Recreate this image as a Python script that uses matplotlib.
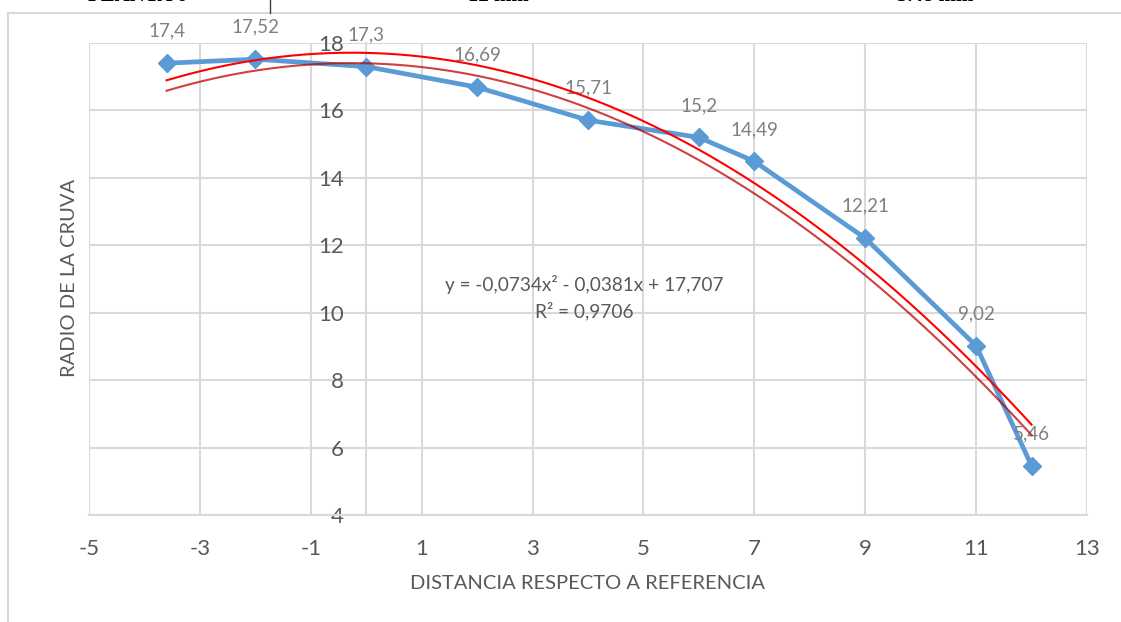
import matplotlib
matplotlib.use("Agg")
import matplotlib.pyplot as plt
import matplotlib.patheffects as pe
from matplotlib.lines import Line2D
import numpy as np

# distancia respecto a la referencia y radio medido
distancia = [-3.6, -2, 0, 2, 4, 6, 7, 9, 11, 12]
radio = [17.4, 17.52, 17.3, 16.69, 15.71, 15.2, 14.49, 12.21, 9.02, 5.46]
etiquetas = ["17,4", "17,52", "17,3", "16,69", "15,71", "15,2", "14,49", "12,21", "9,02", "5,46"]

# linea de tendencia polinomica (orden 2)
coef = [-0.0734, -0.0381, 17.707]
r2 = 0.9706
ecuacion = "y = -0,0734x² - 0,0381x + 17,707"
texto_r2 = "R² = 0,9706"

xticks = [-5, -3, -1, 1, 3, 5, 7, 9, 11, 13]
yticks = [4, 6, 8, 10, 12, 14, 16, 18]

# fila de la tabla que queda encima del grafico
cabecera = ["PLANTA 6", "12 mm", "5.48 mm"]
cabecera_x = [138, 498, 935]

plt.rcParams["font.family"] = ["Lato", "DejaVu Sans"]

W, H = 1121, 622
x0, x1, y0, y1 = 89, 1087, 43, 515
fig = plt.figure(figsize=(W / 100, H / 100), dpi=100)
ax = fig.add_axes([x0 / W, 1 - y1 / H, (x1 - x0) / W, (y1 - y0) / H])

grid_c = "#D9D9D9"
ax.set_xlim(-5, 13)
ax.set_ylim(4, 18)
ax.set_xticks(xticks)
ax.set_yticks(yticks)
ax.set_xticklabels([str(v) for v in xticks])
ax.set_yticklabels([str(v) for v in yticks])
ax.grid(True, color=grid_c, lw=1.5)
ax.set_axisbelow(True)
for s in ["top", "right"]:
    ax.spines[s].set_visible(False)
ax.spines["left"].set_position(("data", 0))
ax.spines["left"].set_color(grid_c)
ax.spines["left"].set_linewidth(1.5)
ax.spines["bottom"].set_color(grid_c)
ax.spines["bottom"].set_linewidth(1.5)
ax.tick_params(axis="both", length=0, colors="#595959", labelsize=16)
ax.tick_params(axis="y", pad=16)
ax.tick_params(axis="x", pad=17)

ax.plot(distancia, radio, color="#5B9BD5", lw=3.4, marker="D", ms=9.5,
        markeredgecolor="#5B9BD5", zorder=3)

for x, y, t in zip(distancia, radio, etiquetas):
    ax.annotate(t, (x, y), xytext=(0, 23), textcoords="offset points",
                ha="center", va="center", fontsize=13.5, color="#808080")

xs = np.linspace(min(distancia), max(distancia), 300)
ys = np.polyval(coef, xs)
ax.plot(xs, ys, color="#FF0000", lw=1.5, zorder=4,
        path_effects=[pe.SimpleLineShadow(offset=(0, -7.5), shadow_color="#C00000",
                                          alpha=0.75), pe.Normal()])

ax.text(3.93, 10.85, ecuacion, ha="center", va="center", fontsize=13.7, color="#595959")
ax.text(3.93, 10.05, texto_r2, ha="center", va="center", fontsize=13.7, color="#595959")

ax.set_xlabel("DISTANCIA RESPECTO A REFERENCIA", fontsize=14.5, color="#595959", labelpad=12)
ax.set_ylabel("RADIO DE LA CRUVA", fontsize=14.5, color="#595959")
ax.yaxis.set_label_coords((78 - x0) / (x1 - x0), (y1 - 278) / (y1 - y0))

# marco del area del grafico y borde de la tabla
fig.add_artist(Line2D([8 / W, 8 / W], [0, 1 - 13 / H], color=grid_c, lw=1.5))
fig.add_artist(Line2D([8 / W, 1], [1 - 13 / H, 1 - 13 / H], color=grid_c, lw=1.5))
fig.add_artist(Line2D([270 / W, 270 / W], [1 - 13 / H, 1], color="#404040", lw=1))
for t, x in zip(cabecera, cabecera_x):
    fig.text(x / W, 1 - 6 / H, t, ha="center", va="bottom", fontsize=15,
             fontweight="bold", family="Liberation Serif", color="black")

fig.savefig("out.png", dpi=100)
